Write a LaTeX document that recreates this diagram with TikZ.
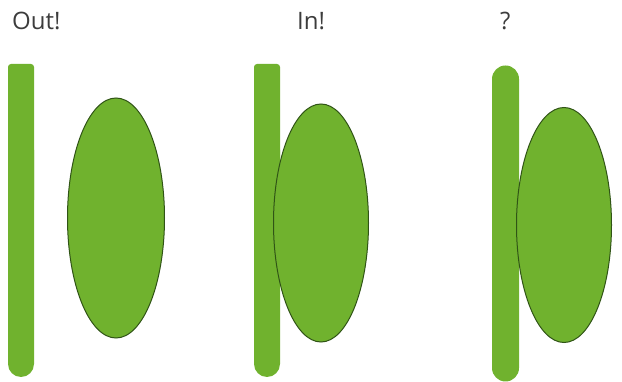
\documentclass[tikz,border=0pt]{standalone}
\usepackage{fontspec}
\setmainfont{Open Sans}
\definecolor{leaf}{RGB}{112,178,46}
\definecolor{leafdark}{RGB}{48,84,22}
\definecolor{ink}{RGB}{60,60,60}

\begin{document}
\begin{tikzpicture}[x=1pt, y=-1pt,
  every node/.style={font=\fontsize{24}{28}\selectfont, text=ink, inner sep=0pt, anchor=base west},
  stick/.style={fill=leaf},
  blob/.style={fill=leaf, draw=leafdark, line width=1pt}]
  \useasboundingbox (0,0) rectangle (622,382);
  % titles
  \node (tout) at (12,30) {Out!};
  \node (tin)  at (297,30) {In!};
  \node (tq)   at (500,30) {?};
  % panel 1: bar and oval apart
  \fill[stick, rounded corners=3pt] (8,200) -- (8,64) -- (34,64) -- (34,200);
  \fill[stick] (8,150) -- (34,150) -- (34,364) arc (0:180:13) -- cycle;
  \draw[blob] (116,218) ellipse [x radius=48.5, y radius=120];
  % panel 2: oval over the bar
  \fill[stick, rounded corners=3pt] (254,200) -- (254,64) -- (280,64) -- (280,200);
  \fill[stick] (254,150) -- (280,150) -- (280,364) arc (0:180:13) -- cycle;
  \draw[blob] (321,223) ellipse [x radius=47.5, y radius=119];
  % panel 3: oval touching the bar
  \fill[stick] (492,79) arc (180:360:13.5) -- (519,368) arc (0:180:13.5) -- cycle;
  \draw[blob] (564,225) ellipse [x radius=47.5, y radius=117.5];
\end{tikzpicture}
\end{document}
